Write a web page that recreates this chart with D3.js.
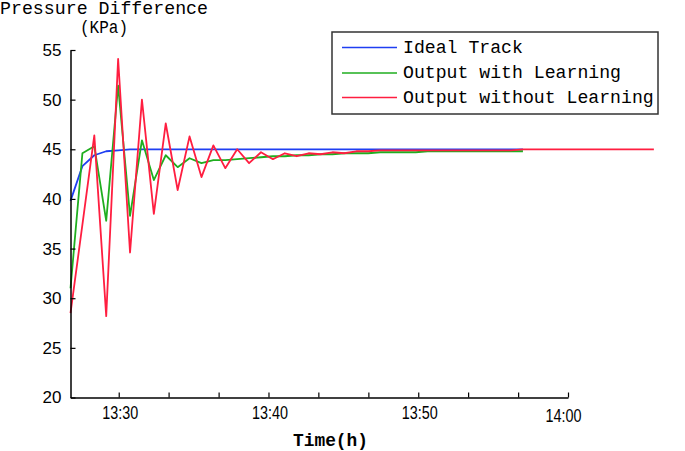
<!DOCTYPE html>
<html>
<head>
<meta charset="utf-8">
<script src="https://cdn.jsdelivr.net/npm/d3@7"></script>
<style>
  html, body { margin: 0; padding: 0; background: #fff; }
  svg { display: block; }
</style>
</head>
<body>
<svg id="chart" width="685" height="451"></svg>
<script>
// ---------- data ----------
const seriesNames = ["Ideal Track", "Output with Learning", "Output without Learning"];
const seriesColors = ["#1f3ff2", "#1fae1f", "#ff1e40"];
// sample start (minutes after 13:00) and sampling step (minutes)
const startMinute = 26.78;
const stepMinute = 0.795;

const idealTrack = [39.8, 43.3, 44.4, 44.8, 44.9, 45, 45, 45, 45, 45,
  45, 45, 45, 45, 45, 45, 45, 45, 45, 45,
  45, 45, 45, 45, 45, 45, 45, 45, 45, 45,
  45, 45, 45, 45, 45, 45, 45, 45, 45];
const withLearning = [31.0, 44.6, 45.3, 37.8, 51.4, 38.3, 45.9, 41.9, 44.4, 43.2,
  44.1, 43.6, 43.9, 43.9, 44.0, 44.1, 44.2, 44.3, 44.3, 44.4,
  44.4, 44.5, 44.5, 44.6, 44.6, 44.6, 44.7, 44.7, 44.7, 44.7,
  44.8, 44.8, 44.8, 44.8, 44.8, 44.8, 44.8, 44.8, 44.8];
const withoutLearning = [28.5, 37.4, 46.4, 28.2, 54.1, 34.6, 50.0, 38.5, 47.6, 40.9,
  46.3, 42.2, 45.4, 43.1, 45.0, 43.6, 44.7, 44.0, 44.6, 44.3,
  44.6, 44.5, 44.7, 44.6, 44.8, 44.8, 44.9, 44.9, 44.9, 44.9,
  44.9, 44.9, 44.9, 44.9, 44.9, 44.9, 44.9, 44.9, 45, 45,
  45, 45, 45, 45, 45, 45, 45, 45, 45, 45];

const yTicks = [20, 25, 30, 35, 40, 45, 50, 55];
const xTicks = [30, 33.33, 36.67, 40, 43.33, 46.67, 50, 53.33, 56.67, 60];
const xTickLabels = {30: "13:30", 40: "13:40", 50: "13:50", 60: "14:00"};
const yTitle = ["Pressure Difference", "(KPa)"];
const xTitle = "Time(h)";

// ---------- layout ----------
const svg = d3.select("#chart");
const plotLeft = 70.5, plotRight = 568, plotTop = 50, plotBottom = 397.5;

const x = d3.scaleLinear().domain([startMinute, 60]).range([plotLeft, plotRight]);
const y = d3.scaleLinear().domain([20, 55]).range([plotBottom, plotTop]);

const monoFont = "'Liberation Mono', 'DejaVu Sans Mono', monospace";
const sansFont = "'Liberation Sans', Arial, sans-serif";

// ---------- lines ----------
const allSeries = [idealTrack, withLearning, withoutLearning];
const line = d3.line()
  .x((d, i) => x(startMinute + i * stepMinute))
  .y(d => y(d));

allSeries.forEach((s, k) => {
  svg.append("path")
    .datum(s)
    .attr("fill", "none")
    .attr("stroke", seriesColors[k])
    .attr("stroke-width", 1.8)
    .attr("stroke-linejoin", "round")
    .attr("d", line);
});

// ---------- axes ----------
const yAxis = d3.axisLeft(y).tickValues(yTicks).tickSizeInner(-5).tickSizeOuter(0).tickPadding(9);
const gy = svg.append("g").attr("transform", `translate(${plotLeft},0)`).call(yAxis);
gy.select(".domain").attr("stroke", "#000").attr("stroke-width", 1.5);
gy.selectAll(".tick line").attr("stroke", "#000").attr("stroke-width", 1.2);
gy.selectAll(".tick text")
  .attr("font-family", sansFont).attr("font-size", 17).attr("fill", "#000");

function labelFor(d) {
  const r = Math.round(d);
  return (Math.abs(d - r) < 0.01 && xTickLabels[r]) ? xTickLabels[r] : "";
}
const xAxis = d3.axisBottom(x).tickValues(xTicks).tickSizeInner(-5).tickSizeOuter(0)
  .tickFormat(labelFor);
const gx = svg.append("g").attr("transform", `translate(0,${plotBottom})`).call(xAxis);
gx.select(".domain").attr("stroke", "#000").attr("stroke-width", 1.5);
gx.selectAll(".tick line").attr("stroke", "#000").attr("stroke-width", 1.2);
gx.selectAll(".tick text")
  .attr("font-family", sansFont).attr("font-size", 18).attr("fill", "#000")
  .attr("y", 9)
  .each(function(d) {
    const t = d3.select(this);
    if (labelFor(d)) {
      t.attr("textLength", 36).attr("lengthAdjust", "spacingAndGlyphs");
    }
    const isLast = Math.abs(d - 60) < 0.01;
    t.attr("dx", isLast ? -5 : 1).attr("dy", isLast ? "0.85em" : "0.71em");
  });

// ---------- titles ----------
svg.append("text").attr("x", 0).attr("y", 14)
  .attr("font-family", monoFont).attr("font-size", 18).attr("fill", "#000")
  .attr("textLength", 208).attr("lengthAdjust", "spacingAndGlyphs")
  .text(yTitle[0]);
svg.append("text").attr("x", 80).attr("y", 33)
  .attr("font-family", monoFont).attr("font-size", 18).attr("fill", "#000")
  .attr("textLength", 48).attr("lengthAdjust", "spacingAndGlyphs")
  .text(yTitle[1]);
svg.append("text").attr("x", 293).attr("y", 446)
  .attr("font-family", monoFont).attr("font-size", 19).attr("font-weight", "bold").attr("fill", "#000")
  .attr("textLength", 75).attr("lengthAdjust", "spacingAndGlyphs")
  .text(xTitle);

// ---------- legend ----------
const lg = svg.append("g");
lg.append("rect").attr("x", 332).attr("y", 32).attr("width", 326).attr("height", 82)
  .attr("fill", "#fff").attr("stroke", "#333").attr("stroke-width", 1.5);
const rowY = [47.5, 73, 97.5];
seriesNames.forEach((name, k) => {
  lg.append("line").attr("x1", 342).attr("x2", 397)
    .attr("y1", rowY[k]).attr("y2", rowY[k])
    .attr("stroke", seriesColors[k]).attr("stroke-width", 1.6);
  lg.append("text").attr("x", 403).attr("y", rowY[k] + 5)
    .attr("font-family", monoFont).attr("font-size", 18).attr("fill", "#000")
    .attr("textLength", name.length * 10.9).attr("lengthAdjust", "spacingAndGlyphs")
    .text(name);
});
</script>
</body>
</html>
